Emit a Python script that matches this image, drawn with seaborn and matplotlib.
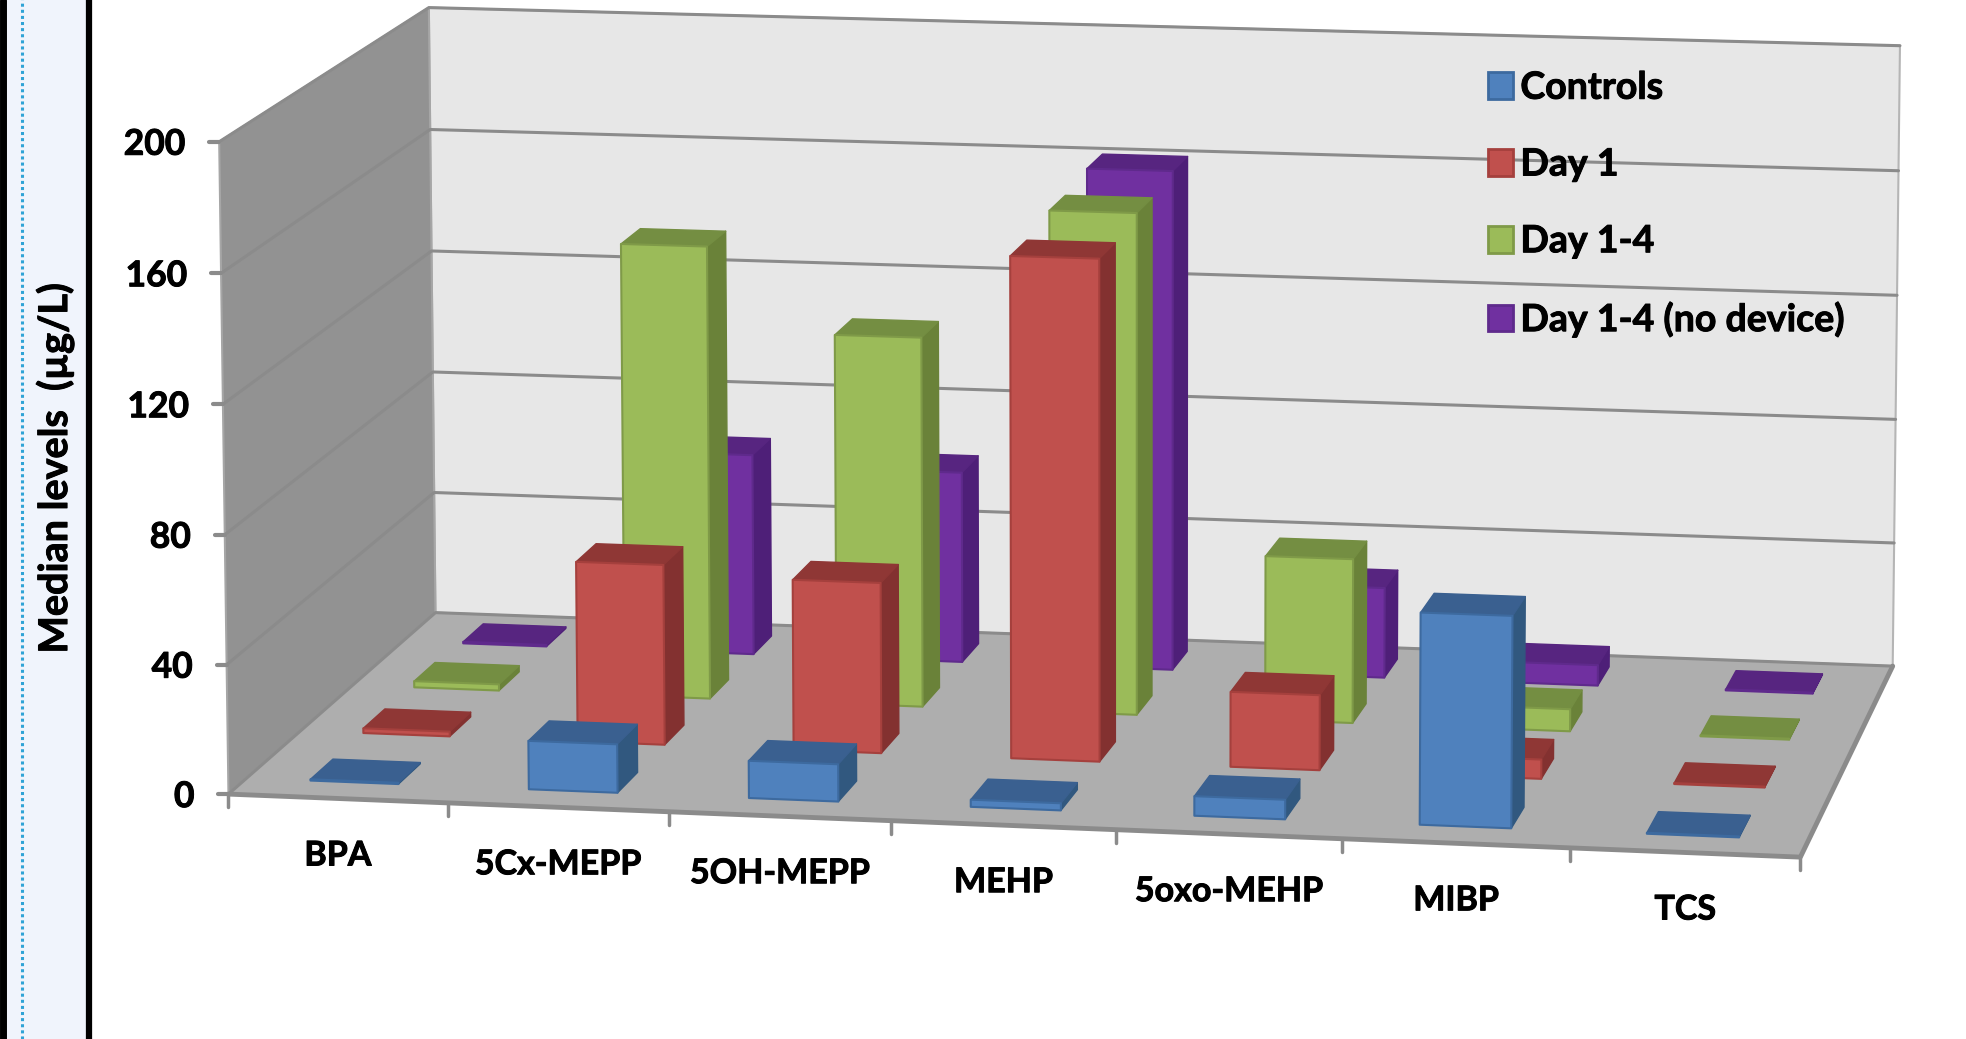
import numpy as np
import pandas as pd
import seaborn as sns
import matplotlib
matplotlib.use("Agg")
import matplotlib.pyplot as plt
import matplotlib.patheffects as pe
from matplotlib.patches import Patch, Rectangle

# Median urinary levels per analyte, one list per group
categories = ["BPA", "5Cx-MEPP", "5OH-MEPP", "MEHP", "5oxo-MEHP", "MIBP", "TCS"]
controls = [0.4, 15, 11.5, 2.2, 6, 64.6, 0.3]
day_1 = [1.5, 56.6, 53.4, 156.4, 23.4, 6, 0.3]
day_1_4 = [2, 144.4, 117.6, 159, 52, 7, 0.3]
day_1_4_no_device = [0.5, 65, 61.6, 161, 29, 6.6, 0.3]
series_names = ["Controls", "Day 1", "Day 1-4", "Day 1-4 (no device)"]
y_ticks = [0, 40, 80, 120, 160, 200]

table = pd.DataFrame(
    {"Controls": controls, "Day 1": day_1, "Day 1-4": day_1_4,
     "Day 1-4 (no device)": day_1_4_no_device},
    index=categories,
)

sns.set_theme(style="white")
plt.rcParams["font.family"] = ["Lato", "DejaVu Sans"]

W, H = 1966, 1039
fig = plt.figure(figsize=(W / 100, H / 100), dpi=100)
ax = fig.add_axes([0, 0, 1, 1])
ax.set_xlim(0, W)
ax.set_ylim(H, 0)
ax.axis("off")

# Perspective camera: a 3x4 projective matrix solved from the corners of the box
VMAX = 200.0
N = len(categories)
box_world = np.array([[0, 0, 0], [0, 0, 1], [0, 1, 0], [0, 1, 1],
                      [1, 1, 0], [1, 1, 1], [1, 0, 0]], float)
box_screen = np.array([[229, 794], [219, 141], [435, 613], [429, 8],
                       [1893, 665], [1900, 46], [1800, 858]], float)


def solve_camera(world, screen):
    rows = []
    for (x, y, z), (u, v) in zip(world, screen):
        rows.append([x, y, z, 1, 0, 0, 0, 0, -u * x, -u * y, -u * z, -u])
        rows.append([0, 0, 0, 0, x, y, z, 1, -v * x, -v * y, -v * z, -v])
    return np.linalg.svd(np.array(rows))[2][-1].reshape(3, 4)


CAM = solve_camera(box_world, box_screen)


def project(cat, depth, value):
    p = CAM @ np.array([cat / N, depth, value / VMAX, 1.0])
    return p[0] / p[2], p[1] / p[2]


def face(points, fc, ec=None, lw=0.0, z=1):
    ax.fill(*zip(*[project(*pt) for pt in points]), facecolor=fc,
            edgecolor=ec if ec else fc, linewidth=lw, zorder=z, joinstyle="round")


GRID = "#8b8b8b"
HEAVY = [pe.withStroke(linewidth=0.7, foreground="black")]

# Page strip on the far left
ax.add_patch(Rectangle((0, 0), 90, H, facecolor="#F0F4FC", edgecolor="none", zorder=0))
ax.axvline(3, color="black", lw=5, zorder=1)
ax.axvline(89, color="black", lw=4.5, zorder=1)
ax.axvline(22, color="#2FA3D6", lw=2.2, ls=(0, (1, 1)), zorder=1)

# Walls and floor
face([(0, 1, 0), (N, 1, 0), (N, 1, VMAX), (0, 1, VMAX)], "#E7E7E7", "#B5B5B5", 1.5)
face([(0, 0, 0), (0, 1, 0), (0, 1, VMAX), (0, 0, VMAX)], "#929292", "#A6A6A6", 1.5)
face([(0, 0, 0), (N, 0, 0), (N, 1, 0), (0, 1, 0)], "#AEAEAE", "#AEAEAE", 1)

for v in y_ticks:
    pts = [project(0, 0, v), project(0, 1, v), project(N, 1, v)]
    ax.plot(*zip(*pts), color=GRID, lw=2.2, zorder=2, solid_joinstyle="round")
    tx, ty = pts[0]
    ax.plot([tx - 10, tx], [ty, ty], color=GRID, lw=3, zorder=2)
    ax.text(tx - 34, ty, str(v), ha="right", va="center_baseline", fontsize=25.5,
            fontweight="bold", color="black", zorder=6, path_effects=HEAVY)

front = [project(0, 0, 0), project(N, 0, 0), project(N, 1, 0)]
ax.plot(*zip(*front), color=GRID, lw=3.5, zorder=2)

# Category ticks and labels under the front edge of the floor
for i in range(N + 1):
    tx, ty = project(i, 0, 0)
    ax.plot([tx, tx], [ty, ty + 13], color=GRID, lw=2.5, zorder=2)
for i, name in enumerate(categories):
    tx, ty = project(i + 0.5, 0, 0)
    ax.text(tx, ty + 54, name, ha="center", va="center_baseline", fontsize=24.5,
            fontweight="bold", color="black", zorder=6, path_effects=HEAVY)

ax.text(55, 468, "Median levels  (µg/L)", rotation=90, ha="center", va="center",
        fontsize=28.5, fontweight="bold", color="black", zorder=6, path_effects=HEAVY)

# Front / top / side shades for each group
front_colors = sns.color_palette(["#4F81BD", "#C0504D", "#9BBB59", "#7030A0"])
top_colors = sns.color_palette(["#3A6090", "#8F3735", "#748E42", "#572580"])
side_colors = sns.color_palette(["#31587F", "#833130", "#6A8239", "#4E1F78"])
edge_colors = sns.color_palette(["#3D6A9F", "#A5403D", "#7F9A48", "#5F2A8C"])

BAR_X = (0.293, 0.697)
BAR_D = (0.33, 0.75)

# Painter's order: rear row first, then left to right along each row
z = 3.0
for row in range(len(series_names) - 1, -1, -1):
    values = table[series_names[row]].to_numpy()
    d0, d1 = (row + BAR_D[0]) / 4, (row + BAR_D[1]) / 4
    for i, v in enumerate(values):
        x0, x1 = i + BAR_X[0], i + BAR_X[1]
        z += 0.001
        face([(x1, d0, 0), (x1, d1, 0), (x1, d1, v), (x1, d0, v)],
             side_colors[row], side_colors[row], 1.0, z)
        face([(x0, d0, v), (x1, d0, v), (x1, d1, v), (x0, d1, v)],
             top_colors[row], top_colors[row], 1.0, z)
        face([(x0, d0, 0), (x1, d0, 0), (x1, d0, v), (x0, d0, v)],
             front_colors[row], edge_colors[row], 1.5, z)

handles = [Patch(facecolor=f, edgecolor=e, linewidth=2)
           for f, e in zip(front_colors, edge_colors)]
legend = ax.legend(handles, series_names, loc="upper left",
                   bbox_to_anchor=(1454 / W, 1 - 37 / H), frameon=False,
                   handlelength=0.67, handleheight=0.72, handletextpad=0.2,
                   labelspacing=1.14, labelcolor="black",
                   prop={"weight": "bold", "size": 27})
for label in legend.get_texts():
    label.set_path_effects(HEAVY)

fig.savefig("out.png", dpi=100)
